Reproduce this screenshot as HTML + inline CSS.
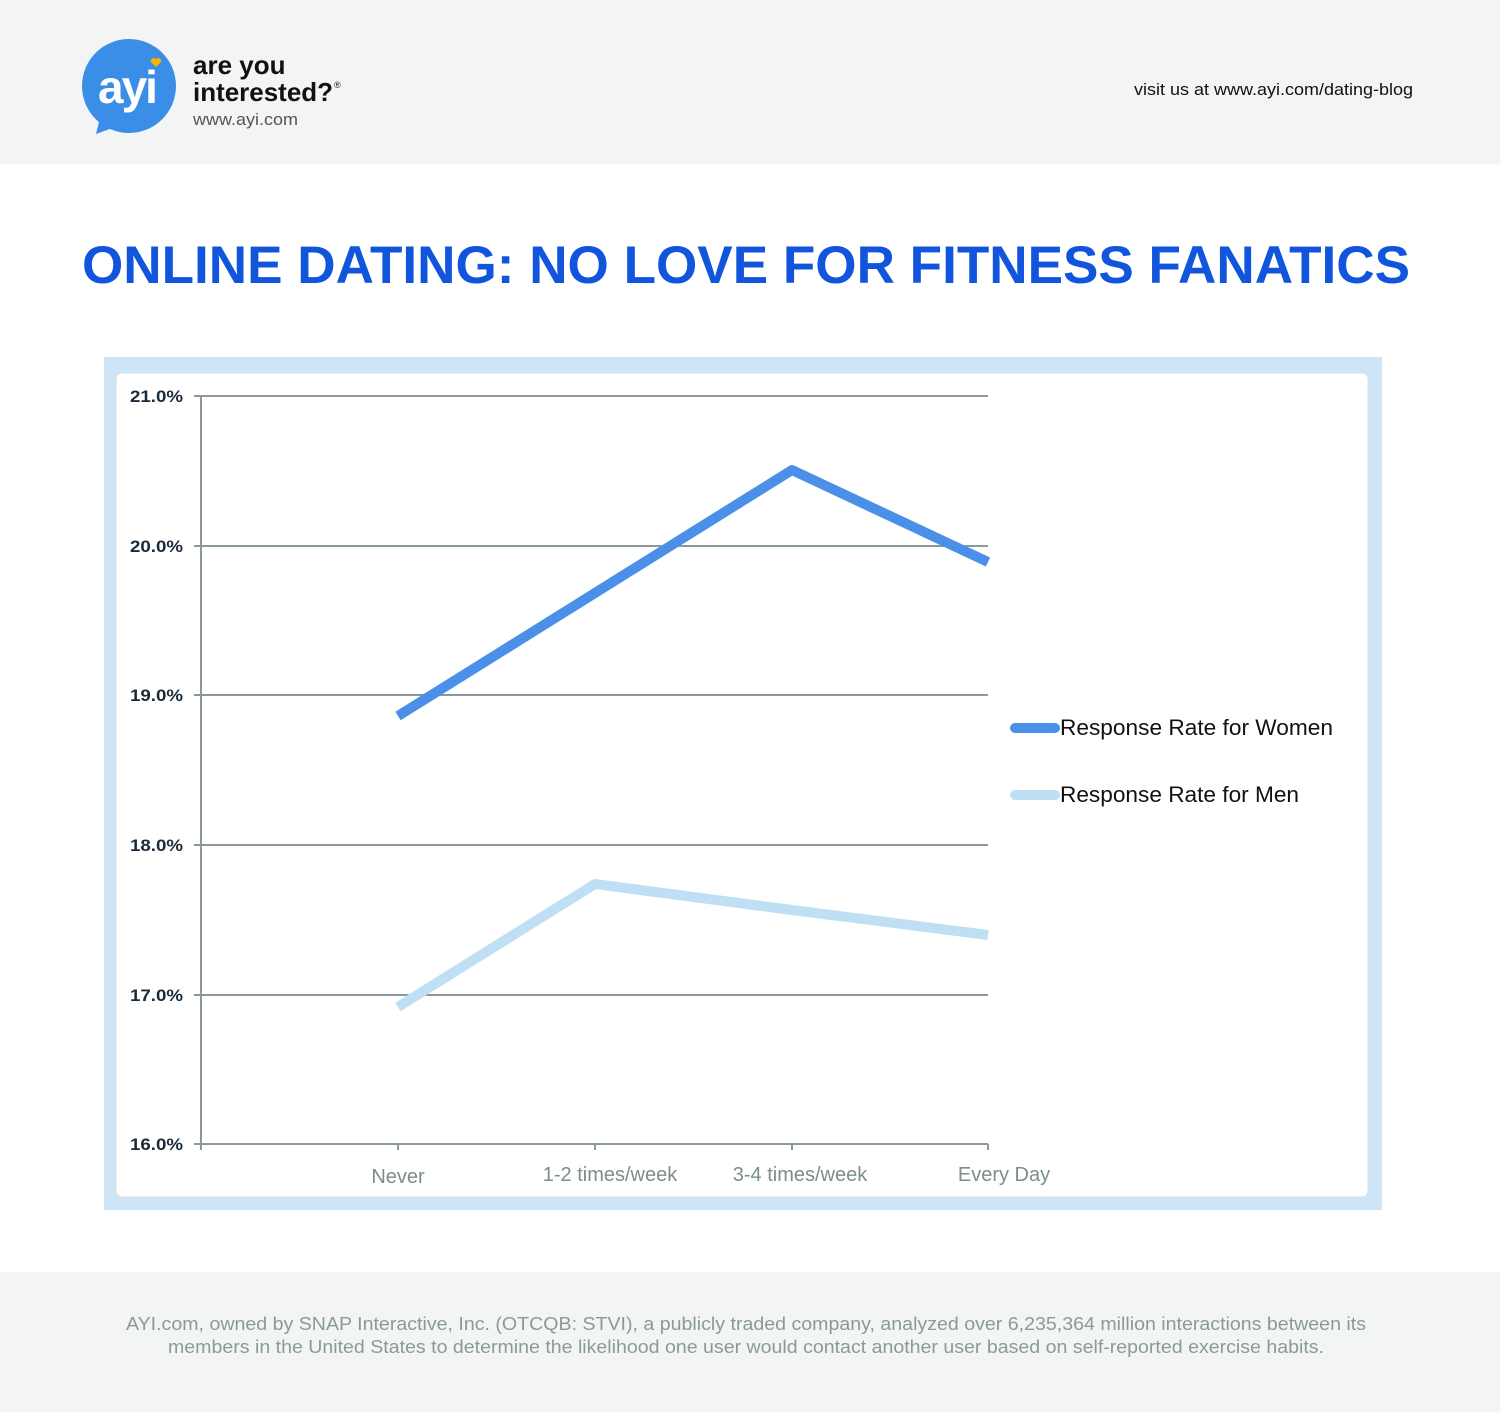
<!DOCTYPE html>
<html><head><meta charset="utf-8"><style>
body{margin:0;width:1500px;height:1412px;background:#fff;font-family:"Liberation Sans",sans-serif;overflow:hidden}
</style></head><body>
<svg width="1500" height="1412" xmlns="http://www.w3.org/2000/svg" font-family="Liberation Sans, sans-serif">
<rect x="0" y="0" width="1500" height="164" fill="#f2f5f4"/>
<rect x="0" y="1272" width="1500" height="140" fill="#f2f5f4"/>
<circle cx="129" cy="86" r="47" fill="#3b8ee8"/>
<path d="M100 118 L96 134 L118 126 Z" fill="#3b8ee8"/>
<text x="127" y="103" text-anchor="middle" font-size="46" font-weight="bold" fill="#fff" letter-spacing="-2">ayi</text>
<path d="M156 67 l-5 -5 a3 3 0 0 1 5 -3 a3 3 0 0 1 5 3 z" fill="#f4b400"/>
<text x="193" y="74" font-size="26" font-weight="bold" fill="#111">are you</text>
<text x="193" y="101" font-size="26" font-weight="bold" fill="#111" textLength="140" lengthAdjust="spacingAndGlyphs">interested?</text>
<text x="334" y="88" font-size="9" fill="#111">®</text>
<text x="193" y="125" font-size="17" fill="#555" textLength="105" lengthAdjust="spacingAndGlyphs">www.ayi.com</text>
<text x="1134" y="95" font-size="17" fill="#111" textLength="279" lengthAdjust="spacingAndGlyphs">visit us at www.ayi.com/dating-blog</text>
<text x="746" y="283" text-anchor="middle" font-size="53" font-weight="bold" fill="#1155dd" textLength="1328" lengthAdjust="spacingAndGlyphs">ONLINE DATING: NO LOVE FOR FITNESS FANATICS</text>
<rect x="104" y="357" width="1278" height="853" fill="#cde5f7"/>
<rect x="116" y="373" width="1252" height="824" rx="6" fill="#fff" stroke="#d6dfe4"/>
<g stroke="#8a9a9a" stroke-width="2">
<line x1="194" y1="396" x2="988" y2="396"/>
<line x1="194" y1="546" x2="988" y2="546"/>
<line x1="194" y1="695" x2="988" y2="695"/>
<line x1="194" y1="845" x2="988" y2="845"/>
<line x1="194" y1="995" x2="988" y2="995"/>
<line x1="194" y1="1144" x2="988" y2="1144"/>
<line x1="201" y1="396" x2="201" y2="1150"/>
<line x1="398" y1="1144" x2="398" y2="1150"/>
<line x1="595" y1="1144" x2="595" y2="1150"/>
<line x1="792" y1="1144" x2="792" y2="1150"/>
<line x1="988" y1="1144" x2="988" y2="1150"/>
</g>
<g font-size="17" font-weight="bold" fill="#1a2a3a">
<text x="130" y="402" textLength="53" lengthAdjust="spacingAndGlyphs">21.0%</text>
<text x="130" y="552" textLength="53" lengthAdjust="spacingAndGlyphs">20.0%</text>
<text x="130" y="701" textLength="53" lengthAdjust="spacingAndGlyphs">19.0%</text>
<text x="130" y="851" textLength="53" lengthAdjust="spacingAndGlyphs">18.0%</text>
<text x="130" y="1001" textLength="53" lengthAdjust="spacingAndGlyphs">17.0%</text>
<text x="130" y="1150" textLength="53" lengthAdjust="spacingAndGlyphs">16.0%</text>
</g>
<g font-size="20" fill="#7a8e8e" text-anchor="middle">
<text x="398" y="1183">Never</text>
<text x="610" y="1181">1-2 times/week</text>
<text x="800" y="1181">3-4 times/week</text>
<text x="1004" y="1181">Every Day</text>
</g>
<polyline points="398,716 595,593 792,470 988,562" fill="none" stroke="#4a8fe8" stroke-width="10" stroke-linejoin="round"/>
<polyline points="398,1007 595,884 792,910 988,935" fill="none" stroke="#bfdff4" stroke-width="10" stroke-linejoin="round"/>
<line x1="1015" y1="728" x2="1055" y2="728" stroke="#4a8fe8" stroke-width="10" stroke-linecap="round"/>
<line x1="1015" y1="795" x2="1055" y2="795" stroke="#bfdff4" stroke-width="10" stroke-linecap="round"/>
<text x="1060" y="735" font-size="22" fill="#111" textLength="273" lengthAdjust="spacingAndGlyphs">Response Rate for Women</text>
<text x="1060" y="802" font-size="22" fill="#111" textLength="239" lengthAdjust="spacingAndGlyphs">Response Rate for Men</text>
<g font-size="18" fill="#8a9a9a">
<text x="126" y="1330" textLength="1240" lengthAdjust="spacingAndGlyphs">AYI.com, owned by SNAP Interactive, Inc. (OTCQB: STVI), a publicly traded company, analyzed over 6,235,364 million interactions between its</text>
<text x="168" y="1353" textLength="1156" lengthAdjust="spacingAndGlyphs">members in the United States to determine the likelihood one user would contact another user based on self-reported exercise habits.</text>
</g>
</svg>
</body></html>
